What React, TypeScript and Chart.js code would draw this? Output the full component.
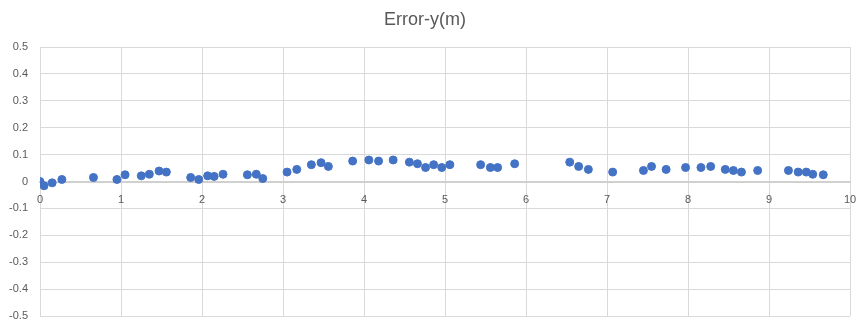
import React, { useEffect, useRef } from "react";
import { Chart, registerables } from "chart.js";

Chart.register(...registerables);

const titleText = "Error-y(m)";
const xValues = [
  0, 0.05, 0.15, 0.27, 0.66, 0.95, 1.05, 1.25, 1.35, 1.47,
  1.56, 1.86, 1.96, 2.07, 2.15, 2.26, 2.56, 2.67, 2.75, 3.05,
  3.17, 3.35, 3.47, 3.56, 3.86, 4.06, 4.18, 4.36, 4.56, 4.66,
  4.76, 4.86, 4.96, 5.06, 5.44, 5.56, 5.65, 5.86, 6.54, 6.65,
  6.77, 7.07, 7.45, 7.55, 7.73, 7.97, 8.16, 8.28, 8.46, 8.56,
  8.66, 8.86, 9.24, 9.36, 9.46, 9.54, 9.67,
];
const yValues = [
  0, -0.016, -0.005, 0.0075, 0.015, 0.0075, 0.025, 0.021, 0.027, 0.039,
  0.035, 0.015, 0.0075, 0.021, 0.019, 0.027, 0.025, 0.027, 0.011, 0.035,
  0.045, 0.0625, 0.07, 0.056, 0.076, 0.08, 0.076, 0.08, 0.072, 0.066,
  0.052, 0.0625, 0.052, 0.0625, 0.0625, 0.052, 0.052, 0.066, 0.072, 0.056,
  0.045, 0.035, 0.041, 0.056, 0.045, 0.052, 0.052, 0.056, 0.045, 0.041,
  0.035, 0.041, 0.041, 0.035, 0.035, 0.027, 0.025,
];
const xMin = 0;
const xMax = 10;
const yMin = -0.5;
const yMax = 0.5;

const FONT = "'Liberation Sans', Arial, sans-serif";

export default function App() {
  const ref = useRef<HTMLCanvasElement | null>(null);
  useEffect(() => {
    document.body.style.margin = "0";
    const points = xValues.map((x, i) => ({ x, y: yValues[i] }));
    const chart = new Chart(ref.current as HTMLCanvasElement, {
      type: "scatter",
      data: {
        datasets: [
          {
            data: points,
            backgroundColor: "#4472C4",
            borderColor: "#4472C4",
            pointRadius: 4,
            pointHoverRadius: 4,
          },
        ],
      },
      options: {
        responsive: false,
        animation: false,
        layout: { padding: { left: 0, right: 11, top: 0, bottom: 5 } },
        plugins: {
          legend: { display: false },
          tooltip: { enabled: false },
          title: {
            display: true,
            text: titleText,
            color: "#595959",
            font: { family: FONT, size: 18, weight: "normal" },
            padding: { top: 9, bottom: 16.4 },
          },
        },
        scales: {
          x: {
            type: "linear",
            position: { y: 0 },
            min: xMin,
            max: xMax,
            ticks: {
              stepSize: 1,
              color: "#595959",
              font: { family: FONT, size: 11 },
              padding: 12,
              maxRotation: 0,
            },
            grid: { color: "#d9d9d9", drawTicks: false },
            border: { color: "#d0d0d0", width: 2 },
            afterFit: (scale: any) => {
              scale.paddingLeft = 0;
              scale.paddingRight = 0;
            },
          },
          y: {
            type: "linear",
            min: yMin,
            max: yMax,
            ticks: {
              stepSize: 0.1,
              color: "#595959",
              font: { family: FONT, size: 11 },
              padding: 12,
            },
            grid: { color: "#d9d9d9", drawTicks: false },
            border: { display: false },
            afterFit: (scale: any) => {
              scale.width = 40;
              scale.paddingTop = 0;
              scale.paddingBottom = 0;
            },
          },
        },
      },
    } as any);
    return () => chart.destroy();
  }, []);
  return (
    <div style={{ position: "absolute", left: 0, top: 0, width: 861, height: 321 }}>
      <canvas ref={ref} width={861} height={321} />
    </div>
  );
}
